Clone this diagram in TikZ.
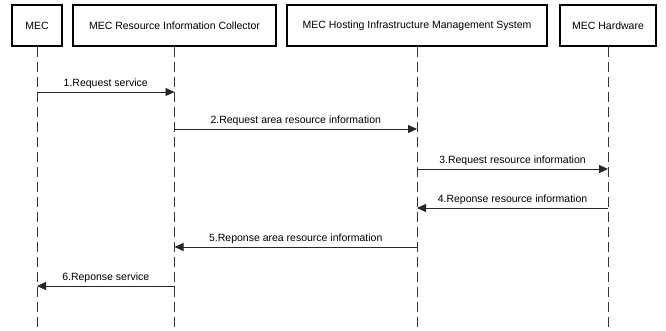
\documentclass[tikz,border=0pt]{standalone}
\usepackage{fontspec}
\setmainfont{Liberation Sans}
\usepackage{tikz}
\usetikzlibrary{arrows.meta, positioning}

\begin{document}
\begin{tikzpicture}[
    x=1pt, y=-1pt,
    actor/.style={rectangle, draw, line width=1.6pt, minimum height=41pt, inner sep=2pt, align=center, font=\fontsize{10.5}{12}\selectfont},
    lifeline/.style={draw=black!80, line width=0.8pt, dash pattern=on 10pt off 5pt},
    msg/.style={-{Triangle[length=9pt, width=8pt]}, draw=black!85, line width=0.9pt},
    lbl/.style={above, inner sep=3pt, font=\fontsize{10.5}{12}\selectfont},
]
\useasboundingbox (0,0) rectangle (666,330);

% Participants
\node[actor, minimum width=50pt] (mec) at (37,25.5) {MEC};
\node[actor, minimum width=203pt] (col) at (174.5,25.5) {MEC Resource Information Collector};
\node[actor, minimum width=260pt] (hims) at (417,25.5) {MEC Hosting Infrastructure Management System};
\node[actor, minimum width=96pt] (hw) at (608,25.5) {MEC Hardware};

% Lifelines
\coordinate (bottom) at (0,330);
\draw[lifeline] (mec.south) -- (mec |- bottom);
\draw[lifeline] (col.south) -- (col |- bottom);
\draw[lifeline] (hims.south) -- (hims |- bottom);
\draw[lifeline] (hw.south) -- (hw |- bottom);

% Messages
\draw[msg] (mec |- 0,92) -- node[lbl] {1.Request service} (col |- 0,92);
\draw[msg] (col |- 0,129) -- node[lbl] {2.Request area resource information} (hims |- 0,129);
\draw[msg] (hims |- 0,169) -- node[lbl] {3.Request resource information} (hw |- 0,169);
\draw[msg] (hw |- 0,208) -- node[lbl] {4.Reponse resource information} (hims |- 0,208);
\draw[msg] (hims |- 0,247) -- node[lbl] {5.Reponse area resource information} (col |- 0,247);
\draw[msg] (col |- 0,286) -- node[lbl] {6.Reponse service} (mec |- 0,286);

\end{tikzpicture}
\end{document}
